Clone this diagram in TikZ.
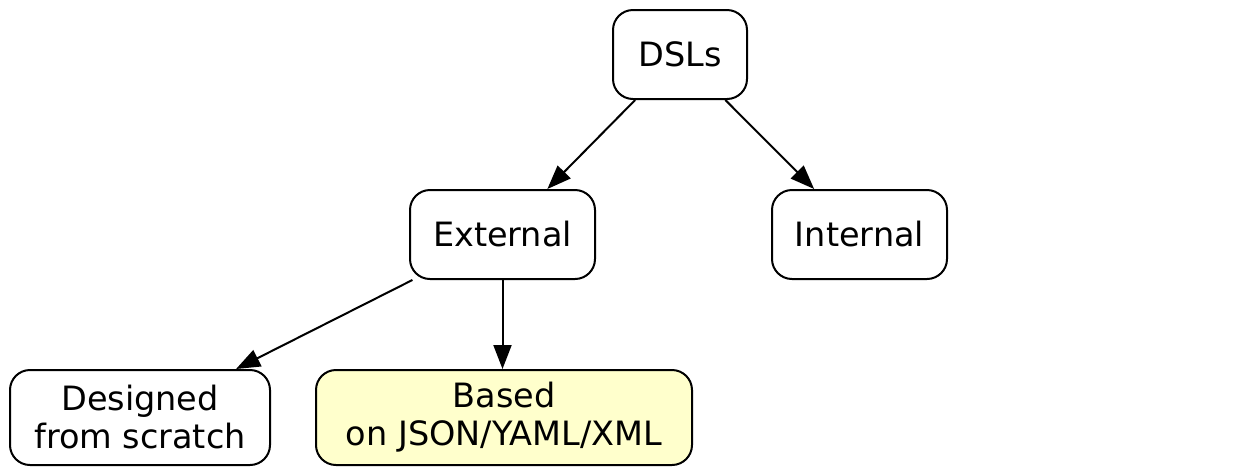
\documentclass[tikz,border=0pt]{standalone}
\usepackage{fontspec}
\setmainfont{DejaVu Sans}
\usetikzlibrary{arrows.meta}
\tikzset{
  box/.style={draw=black, line width=2pt, rounded corners=20pt, fill=white,
    align=center, inner sep=0pt, font=\fontsize{33.5}{38}\selectfont},
  edge/.style={line width=2pt, -{Triangle[length=24pt,width=18pt]}}
}
\begin{document}
\begin{tikzpicture}[x=1pt,y=-1pt]
\useasboundingbox (0,0) rectangle (1243,475);
\node[box, minimum width=134pt, minimum height=89pt] (dsl) at (680,54.5) {DSLs};
\node[box, minimum width=185pt, minimum height=89pt] (ext) at (502.5,234.5) {External};
\node[box, minimum width=175pt, minimum height=89pt] (int) at (859.5,234.5) {Internal};
\node[box, minimum width=260pt, minimum height=95pt] (des) at (140,417.5) {Designed\\from scratch};
\node[box, fill={rgb,255:red,255;green,255;blue,204}, minimum width=376pt, minimum height=95pt] (bas) at (504,417.5) {Based\\on JSON/YAML/XML};
\draw[edge] (dsl) -- (ext);
\draw[edge] (dsl) -- (int);
\draw[edge] (ext) -- (des);
\draw[edge] (ext.south) -- (ext.south |- bas.north);
\end{tikzpicture}
\end{document}
